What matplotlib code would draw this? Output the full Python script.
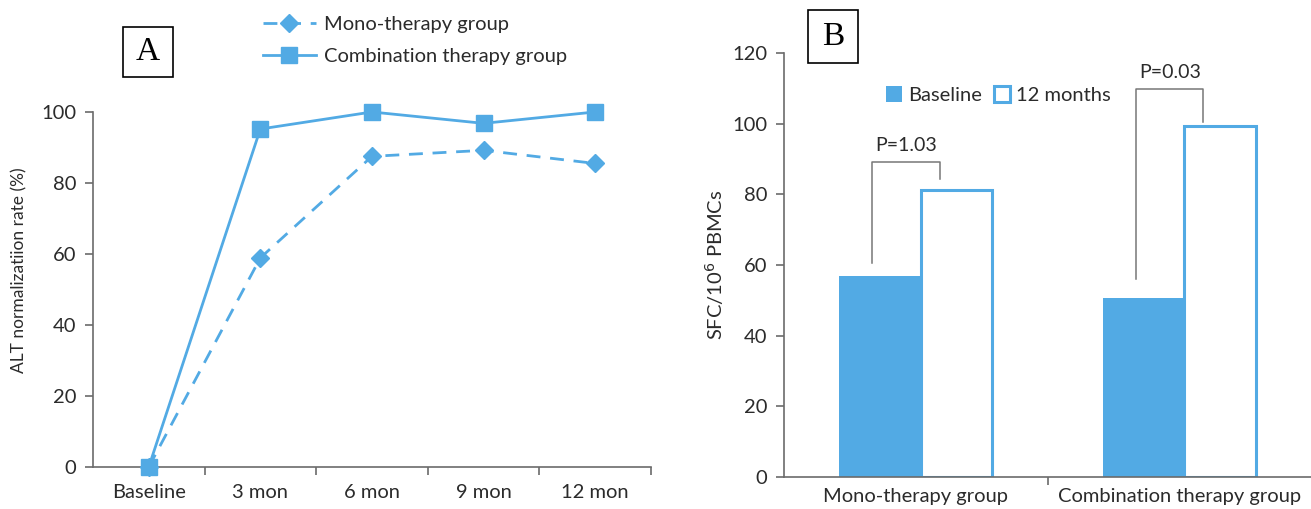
import numpy as np
import matplotlib.pyplot as plt
from matplotlib.patches import Rectangle

# panel A data
timepoints = ['Baseline', '3 mon', '6 mon', '9 mon', '12 mon']
mono_rate = [0, 58.9, 87.5, 89.2, 85.5]
combo_rate = [0, 95.2, 100, 96.8, 100]

# panel B data
groups = ['Mono-therapy group', 'Combination therapy group']
baseline_sfc = [56.9, 50.7]
month12_sfc = [81.1, 99.2]
p_labels = ['P=1.03', 'P=0.03']
# bracket ends (left on baseline side, right on 12-month side), top of bracket
bracket_low = [60.5, 56.0]
bracket_right = [84.2, 100.4]
bracket_top = [89.1, 109.8]

blue = '#52AAE4'
axcol = '#6b6b6b'
txtcol = '#2b2b2b'

plt.rcParams['font.family'] = ['Lato', 'DejaVu Sans']
fig = plt.figure(figsize=(13.11, 5.09), dpi=100)

# ---------- panel A ----------
axA = fig.add_axes([0.0709, 0.0825, 0.4256, 0.6975])
x = np.arange(len(timepoints))
axA.plot(x, mono_rate, color=blue, ls=(0, (5, 3.5)), lw=2, marker='D',
         ms=9, clip_on=False, zorder=3, label='Mono-therapy group')
axA.plot(x, combo_rate, color=blue, ls='-', lw=2, marker='s',
         ms=12, clip_on=False, zorder=4, label='Combination therapy group')
axA.set_xlim(-0.5, 4.5)
axA.set_ylim(0, 100)
axA.set_yticks(np.arange(0, 101, 20))
axA.set_xticks(x)
axA.set_xticklabels(timepoints)
axA.set_xticks(np.arange(0.5, 4.6, 1), minor=True)
axA.tick_params(axis='x', which='major', length=0, pad=12)
axA.tick_params(axis='x', which='minor', length=6, width=1.2, color=axcol)
axA.tick_params(axis='y', length=6, width=1.2, color=axcol, pad=6)
axA.tick_params(labelsize=14.5, labelcolor=txtcol)
for s in ['top', 'right']:
    axA.spines[s].set_visible(False)
for s in ['left', 'bottom']:
    axA.spines[s].set_color(axcol)
    axA.spines[s].set_linewidth(1.2)
axA.set_ylabel('ALT normalizatiion rate (%)', fontsize=12.5, color=txtcol)
axA.yaxis.set_label_coords(-0.118, 0.555)
legA = axA.legend(loc='upper left', bbox_to_anchor=(0.187, 1.005), bbox_transform=fig.transFigure,
                  frameon=False, fontsize=14.5, handlelength=2.6, labelspacing=0.75,
                  handletextpad=0.4)
for t in legA.get_texts():
    t.set_color(txtcol)
fig.add_artist(Rectangle((123 / 1311, 1 - 77 / 509), 50 / 1311, 50 / 509,
                         transform=fig.transFigure, fill=False, ec='black', lw=1.2))
fig.text(148 / 1311, 1 - 52 / 509, 'A', family='Liberation Serif', fontsize=24,
         ha='center', va='center')

# ---------- panel B ----------
axB = fig.add_axes([0.598, 0.0629, 0.4025, 0.833])
gx = np.arange(len(groups))
axB.bar(gx - 0.29, baseline_sfc, width=0.305, align='edge', color=blue, lw=0,
        label='Baseline', zorder=2)
axB.bar(gx + 0.018, month12_sfc, width=0.272, align='edge', color='white', ec=blue, lw=2.2,
        label='12 months', zorder=2)
for i in range(len(groups)):
    xl = gx[i] - 0.165
    xr = gx[i] + 0.09
    axB.plot([xl, xl, xr, xr], [bracket_low[i], bracket_top[i], bracket_top[i], bracket_right[i]],
             color='#777777', lw=1.1, zorder=3)
    axB.text((xl + xr) / 2, bracket_top[i] + 2.3, p_labels[i], ha='center', va='bottom',
             fontsize=14, color=txtcol)
axB.set_xlim(-0.5, 1.5)
axB.set_ylim(0, 120)
axB.set_yticks(np.arange(0, 121, 20))
axB.set_xticks(gx)
axB.set_xticklabels(groups)
axB.set_xticks([0.5], minor=True)
axB.tick_params(axis='x', which='major', length=0, pad=8)
axB.tick_params(axis='x', which='minor', length=6, width=1.2, color=axcol)
axB.tick_params(axis='y', length=6, width=1.2, color=axcol, pad=6)
axB.tick_params(labelsize=14.5, labelcolor=txtcol)
for s in ['top', 'right']:
    axB.spines[s].set_visible(False)
for s in ['left', 'bottom']:
    axB.spines[s].set_color(axcol)
    axB.spines[s].set_linewidth(1.2)
axB.set_ylabel('SFC/10$^6$ PBMCs', fontsize=14.5, color=txtcol)
axB.yaxis.set_label_coords(-0.11, 0.5)
legB = axB.legend(loc='center left', bbox_to_anchor=(868 / 1311, 1 - 95 / 509),
                  bbox_transform=fig.transFigure, frameon=False, fontsize=14.5, ncol=2,
                  handlelength=0.8, handleheight=0.8, handletextpad=0.3, columnspacing=0.6)
for t in legB.get_texts():
    t.set_color(txtcol)
fig.add_artist(Rectangle((808 / 1311, 1 - 63 / 509), 50 / 1311, 53 / 509,
                         transform=fig.transFigure, fill=False, ec='black', lw=1.2))
fig.text(833 / 1311, 1 - 37 / 509, 'B', family='Liberation Serif', fontsize=24,
         ha='center', va='center')

fig.savefig('out.png', dpi=100)
